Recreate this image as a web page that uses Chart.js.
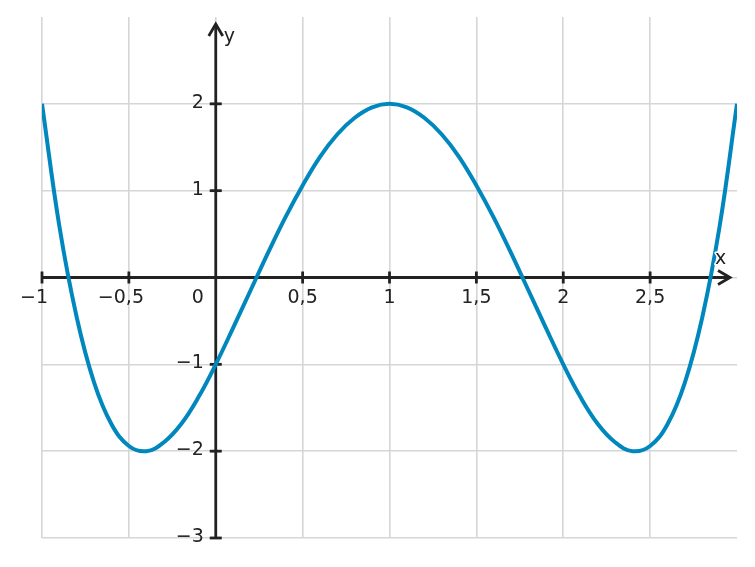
<!DOCTYPE html>
<html>
<head>
<meta charset="utf-8">
<script src="https://cdn.jsdelivr.net/npm/chart.js@4/dist/chart.umd.min.js"></script>
<style>
  html, body { margin: 0; padding: 0; background: #fff; }
  canvas { display: block; }
</style>
</head>
<body>
<canvas id="plot" width="755" height="567"></canvas>
<script>
// curve
var xValues = [-1, -0.9, -0.8, -0.7, -0.6, -0.5, -0.4, -0.3, -0.2, -0.1,
  0, 0.1, 0.2, 0.3, 0.4, 0.5, 0.6, 0.7, 0.8, 0.9,
  1, 1.1, 1.2, 1.3, 1.4, 1.5, 1.6, 1.7, 1.8, 1.9,
  2, 2.1, 2.2, 2.3, 2.4, 2.5, 2.6, 2.7, 2.8, 2.9, 3];
var yValues = [2, 0.59, -0.46, -1.21, -1.69, -1.94, -2.0, -1.9, -1.69, -1.38,
  -1, -0.58, -0.15, 0.28, 0.69, 1.06, 1.39, 1.65, 1.84, 1.96,
  2, 1.96, 1.84, 1.65, 1.39, 1.06, 0.69, 0.28, -0.15, -0.58,
  -1, -1.38, -1.69, -1.9, -2.0, -1.94, -1.69, -1.21, -0.46, 0.59, 2];

var xTickValues = [-1, -0.5, 0, 0.5, 1, 1.5, 2, 2.5];
var xTickLabels = ["−1", "−0,5", "0", "0,5", "1", "1,5", "2", "2,5"];
var yTickValues = [2, 1, -1, -2, -3];
var yTickLabels = ["2", "1", "−1", "−2", "−3"];

var FONT = '19px "DejaVu Sans"';
var INK = '#222222';

var points = [];
for (var i = 0; i < xValues.length; i++) {
  points.push({ x: xValues[i], y: yValues[i] });
}

function gridColor(ctx) {
  // no grid line at the open end (x = 3, y = 3)
  return ctx.tick && ctx.tick.value === 3 ? 'rgba(0,0,0,0)' : '#d6d6d6';
}

var axesPlugin = {
  id: 'axes',
  beforeDatasetsDraw: function(chart) {
    var ctx = chart.ctx;
    var xs = chart.scales.x, ys = chart.scales.y;
    var ox = xs.getPixelForValue(0);
    var oy = ys.getPixelForValue(0);
    ctx.save();
    ctx.strokeStyle = INK;
    ctx.fillStyle = INK;
    ctx.lineWidth = 2.8;
    ctx.lineCap = 'butt';

    // x axis with arrow
    var xTip = xs.right - 7;
    ctx.beginPath();
    ctx.moveTo(xs.left, oy);
    ctx.lineTo(xTip, oy);
    ctx.stroke();
    ctx.beginPath();
    ctx.moveTo(xTip - 12, oy - 7);
    ctx.lineTo(xTip, oy);
    ctx.lineTo(xTip - 12, oy + 7);
    ctx.stroke();

    // y axis with arrow
    var yTip = ys.top + 7;
    ctx.beginPath();
    ctx.moveTo(ox, ys.bottom);
    ctx.lineTo(ox, yTip);
    ctx.stroke();
    ctx.beginPath();
    ctx.moveTo(ox - 7, yTip + 12);
    ctx.lineTo(ox, yTip);
    ctx.lineTo(ox + 7, yTip + 12);
    ctx.stroke();

    // ticks + labels
    ctx.font = FONT;
    xTickValues.forEach(function(v, i) {
      var px = xs.getPixelForValue(v);
      var lab = xTickLabels[i];
      if (v !== 0) {
        ctx.beginPath();
        ctx.moveTo(px, oy - 6);
        ctx.lineTo(px, oy + 6);
        ctx.stroke();
      }
      ctx.textBaseline = 'alphabetic';
      if (v === 0) {
        ctx.textAlign = 'right';
        ctx.fillText(lab, ox - 12, oy + 25);
      } else if (lab.charAt(0) === '−') {
        var rest = lab.slice(1);
        var w = ctx.measureText(rest).width;
        ctx.textAlign = 'left';
        ctx.fillText(rest, px - w / 2, oy + 25);
        ctx.textAlign = 'right';
        ctx.fillText('−', px - w / 2, oy + 25);
      } else {
        ctx.textAlign = 'center';
        ctx.fillText(lab, px, oy + 25);
      }
    });
    yTickValues.forEach(function(v, i) {
      var py = ys.getPixelForValue(v);
      ctx.beginPath();
      ctx.moveTo(ox - 6, py);
      ctx.lineTo(ox + 6, py);
      ctx.stroke();
      ctx.textAlign = 'right';
      ctx.textBaseline = 'middle';
      ctx.fillText(yTickLabels[i], ox - 12, py - 1);
    });
    ctx.restore();
  },
  afterDatasetsDraw: function(chart) {
    var ctx = chart.ctx;
    var xs = chart.scales.x, ys = chart.scales.y;
    var ox = xs.getPixelForValue(0);
    var oy = ys.getPixelForValue(0);
    ctx.save();
    ctx.font = FONT;
    ctx.textAlign = 'left';
    ctx.textBaseline = 'alphabetic';
    ctx.lineJoin = 'round';
    ctx.strokeStyle = '#ffffff';
    ctx.lineWidth = 3;
    ctx.strokeText('x', xs.right - 22, oy - 14);
    ctx.fillStyle = INK;
    ctx.fillText('x', xs.right - 22, oy - 14);
    ctx.fillText('y', ox + 8, ys.top + 25);
    ctx.restore();
  }
};

new Chart(document.getElementById('plot'), {
  type: 'line',
  data: {
    datasets: [{
      data: points,
      borderColor: '#0087bd',
      borderWidth: 4,
      pointRadius: 0,
      fill: false,
      tension: 0.4
    }]
  },
  options: {
    responsive: false,
    animation: false,
    layout: { padding: { left: 42, right: 18, top: 17, bottom: 29 } },
    plugins: { legend: { display: false }, tooltip: { enabled: false } },
    scales: {
      x: {
        type: 'linear',
        min: -1,
        max: 3,
        ticks: { display: false, stepSize: 0.5 },
        border: { display: false },
        grid: { color: gridColor, lineWidth: 1.6, drawTicks: false }
      },
      y: {
        type: 'linear',
        min: -3,
        max: 3,
        ticks: { display: false, stepSize: 1 },
        border: { display: false },
        grid: { color: gridColor, lineWidth: 1.6, drawTicks: false }
      }
    }
  },
  plugins: [axesPlugin]
});
</script>
</body>
</html>
